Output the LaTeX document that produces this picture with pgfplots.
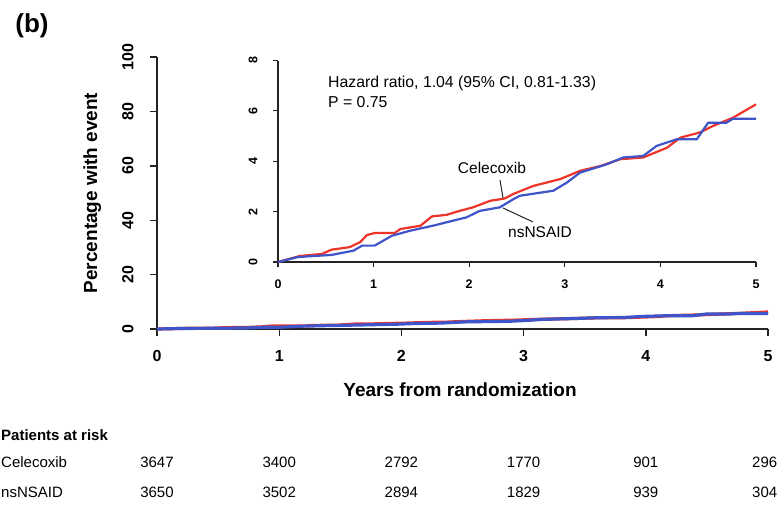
\documentclass[border=0pt]{standalone}
\usepackage{pgfplots}
\pgfplotsset{compat=1.18}
\usepackage{pgfplotstable}
\usepackage{fontspec}
\setmainfont{Liberation Sans}
\definecolor{cred}{RGB}{236,52,40}
\definecolor{cblue}{RGB}{62,84,200}
\definecolor{axc}{RGB}{35,35,35}

\pgfplotstableread{
x y
0 0
0.23 0.24
0.46 0.32
0.56 0.49
0.75 0.59
0.86 0.79
0.93 1.07
1.01 1.15
1.22 1.15
1.28 1.31
1.49 1.44
1.61 1.81
1.76 1.87
1.90 2.03
2.04 2.17
2.22 2.43
2.37 2.52
2.46 2.70
2.67 3.02
2.95 3.29
3.16 3.62
3.37 3.81
3.58 4.08
3.82 4.15
4.07 4.54
4.21 4.94
4.41 5.14
4.55 5.40
4.76 5.73
5.00 6.26
}\cel

\pgfplotstableread{
x y
0 0
0.20 0.19
0.30 0.22
0.56 0.28
0.79 0.45
0.88 0.65
1.01 0.65
1.19 1.04
1.38 1.24
1.62 1.44
1.83 1.64
1.97 1.77
2.11 2.03
2.32 2.17
2.46 2.49
2.53 2.63
2.88 2.83
3.02 3.15
3.16 3.55
3.44 3.88
3.61 4.15
3.82 4.21
3.96 4.61
4.17 4.87
4.38 4.87
4.50 5.53
4.69 5.53
4.76 5.69
5.00 5.69
}\nsn

\begin{document}
\begin{tikzpicture}[x=1pt,y=1pt]
\useasboundingbox (0,0) rectangle (778,504);
\clip (0,0) rectangle (778,504);

% main axis
\begin{axis}[
  at={(157pt,175pt)}, anchor=south west, scale only axis,
  width=611pt, height=272pt,
  xmin=0, xmax=5, ymin=0, ymax=100,
  axis lines=left, axis line style={-, line width=1.4pt, color=axc},
  xtick={0,1,2,3,4,5}, ytick={0,20,40,60,80,100},
  tick align=outside, major tick length=7pt,
  tick style={line width=1.4pt, color=axc},
  /pgf/number format/assume math mode=true,
  tick label style={font=\fontsize{16}{16}\selectfont\bfseries},
  yticklabel style={rotate=90, anchor=south},
  xticklabel shift=11pt, yticklabel shift=13pt,
  xlabel={Years from randomization}, ylabel={Percentage with event},
  label style={font=\fontsize{19}{19}\selectfont\bfseries},
  xlabel style={at={(axis description cs:0.496,-0.224)}, anchor=center},
  ylabel style={at={(axis description cs:-0.106,0.5)}, anchor=center},
  clip=false,
]
\addplot[cred, line width=3.2pt] table[x=x,y=y]{\cel};
\addplot[cblue, line width=3.2pt] table[x=x,y=y]{\nsn};
\end{axis}

% inset axis
\begin{axis}[
  at={(278pt,242pt)}, anchor=south west, scale only axis,
  width=478pt, height=201.5pt,
  xmin=0, xmax=5, ymin=0, ymax=8,
  axis lines=left, axis line style={-, line width=1.2pt, color=axc},
  xtick={0,1,2,3,4,5}, ytick={0,2,4,6,8},
  tick align=outside, major tick length=5pt,
  tick style={line width=1.2pt, color=axc},
  /pgf/number format/assume math mode=true,
  tick label style={font=\fontsize{12.5}{12.5}\selectfont\bfseries},
  yticklabel style={rotate=90, anchor=south},
  xticklabel shift=9pt, yticklabel shift=12pt,
  clip=false,
]
\addplot[cred, line width=2.2pt] table[x=x,y=y]{\cel};
\addplot[cblue, line width=2.2pt] table[x=x,y=y]{\nsn};
\end{axis}

% annotations
\node[font=\fontsize{26}{26}\selectfont\bfseries] at (32,478) {(b)};
\node[anchor=west, inner sep=0pt, font=\fontsize{15.8}{16}\selectfont] at (328,421) {Hazard ratio, 1.04 (95\% CI, 0.81-1.33)};
\node[anchor=west, inner sep=0pt, font=\fontsize{15.8}{16}\selectfont] at (328,402) {P = 0.75};
\node[font=\fontsize{15.5}{16}\selectfont] at (492,336) {Celecoxib};
\draw[line width=1pt, axc] (500,324) -- (503,306);
\node[font=\fontsize{15.5}{16}\selectfont] at (540,272) {nsNSAID};
\draw[line width=1pt, axc] (503,296) -- (533,282);

% risk table
\node[anchor=west, inner sep=0pt, font=\fontsize{15}{15}\selectfont\bfseries] at (1,69) {Patients at risk};
\node[anchor=west, inner sep=0pt, font=\fontsize{15}{15}\selectfont] at (1,42) {Celecoxib};
\node[anchor=west, inner sep=0pt, font=\fontsize{15}{15}\selectfont] at (1,12) {nsNSAID};
\foreach \xx/\a/\b in {157/3647/3650, 279.2/3400/3502, 401.4/2792/2894, 523.6/1770/1829, 645.8/901/939}{
  \node[font=\fontsize{15}{15}\selectfont] at (\xx,42) {\a};
  \node[font=\fontsize{15}{15}\selectfont] at (\xx,12) {\b};
}
\node[anchor=west, inner sep=0pt, font=\fontsize{15}{15}\selectfont] at (752,42) {296};
\node[anchor=west, inner sep=0pt, font=\fontsize{15}{15}\selectfont] at (752,12) {304};
\end{tikzpicture}
\end{document}
